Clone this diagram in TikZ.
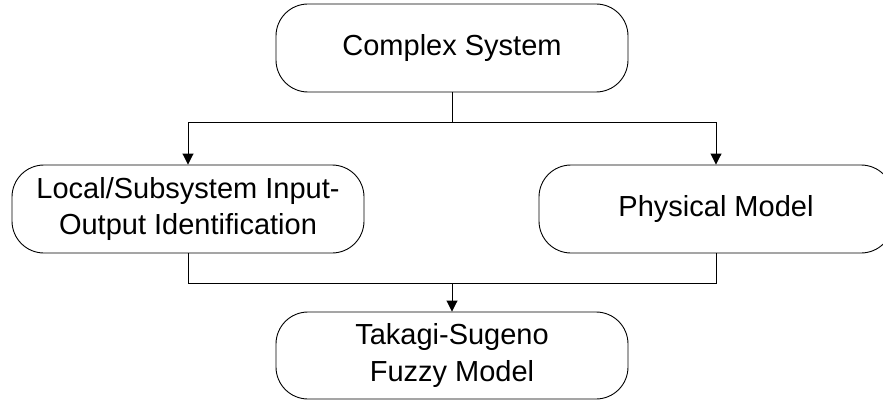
\documentclass[tikz,border=0pt]{standalone}
\usepackage{fontspec}
\setmainfont{Liberation Sans}
\usetikzlibrary{arrows.meta}
\begin{document}
\begin{tikzpicture}[x=1pt,y=-1pt,
  flowbox/.style={draw=black, line width=0.9pt, rounded corners=32pt,
    minimum height=88pt, inner sep=0pt, align=center,
    font=\fontsize{29}{36.7}\selectfont},
  link/.style={draw=black, line width=0.9pt},
  arr/.style={link, -{Triangle[length=11pt,width=11pt]}}]
  \useasboundingbox (0,0) rectangle (883,401);
  \clip (0,0) rectangle (883,401);
  % process boxes
  \node[flowbox, minimum width=352pt] (sys) at (452,48) {Complex System};
  \node[flowbox, minimum width=352pt] (loc) at (188,209) {Local/Subsystem Input-\\Output Identification};
  \node[flowbox, minimum width=354pt] (phy) at (716,209) {Physical Model};
  \node[flowbox, minimum width=352pt, minimum height=87pt] (ts) at (452,355.5) {Takagi-Sugeno\\Fuzzy Model};
  % branch and merge points
  \coordinate (split) at (452,122);
  \coordinate (merge) at (452,283);
  % connectors
  \draw[link] (sys.south) -- (split);
  \draw[arr] (split) -| (loc.north);
  \draw[arr] (split) -| (phy.north);
  \draw[link] (loc.south) |- (merge);
  \draw[link] (phy.south) |- (merge);
  \draw[arr] (merge) -- (ts.north);
\end{tikzpicture}
\end{document}
